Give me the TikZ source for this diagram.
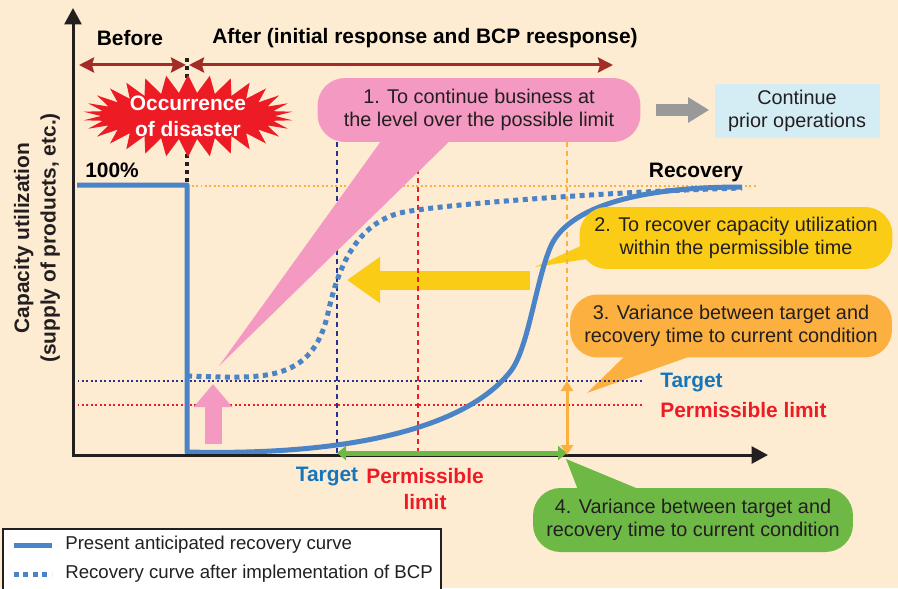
\documentclass[tikz,border=0pt]{standalone}
\usepackage{fontspec}
\setmainfont{Liberation Sans}
\usetikzlibrary{shapes.symbols}
\usetikzlibrary{positioning}
\usetikzlibrary{arrows.meta}

\begin{document}
\begin{tikzpicture}[x=0.02cm,y=-0.02cm,
	lab/.style={font=\bfseries\fontsize{11.9}{15}\selectfont},
	bubble/.style={rounded corners=0.55cm,align=center,inner sep=0pt,
		font=\fontsize{11.3}{13.2}\selectfont,text=txt},
	nowcurve/.style={line width=0.1cm,draw=bcurve,line join=round},
	bcpcurve/.style={nowcurve,dash pattern=on 0.1cm off 0.09cm},
	hdots/.style={line width=0.04cm,dash pattern=on 0.04cm off 0.05cm},
	vdash/.style={line width=0.04cm,dash pattern=on 0.1cm off 0.08cm},
	span/.style={<->,>={Stealth[length=0.3cm,width=0.3cm,inset=0.04cm]},
		draw=darkred,line width=0.06cm},
	axis/.style={->,>={Triangle[length=0.33cm,width=0.34cm]},line width=0.06cm,draw=txt}]
	
	\definecolor{bgc}{RGB}{253,235,210}
	\definecolor{darkred}{RGB}{163,45,38}
	\definecolor{burst}{RGB}{237,28,36}
	\definecolor{pinkc}{RGB}{243,153,194}
	\definecolor{yellowc}{RGB}{250,204,22}
	\definecolor{orangec}{RGB}{251,176,64}
	\definecolor{greenc}{RGB}{110,185,70}
	\definecolor{bluebox}{RGB}{212,237,244}
	\definecolor{bcurve}{RGB}{74,132,199}
	\definecolor{navy}{RGB}{40,50,145}
	\definecolor{tblue}{RGB}{22,118,188}
	\definecolor{txt}{RGB}{35,31,32}
	
	\fill[bgc] (0,0) rectangle (898,588);
	\useasboundingbox (0,0) rectangle (898,588);
	
	% axes corners and arrow ends
	\coordinate (O) at (73,455);
	\coordinate (ytop) at (73,8);
	\coordinate (xend) at (768,455);
	\coordinate (tgtT) at (337,453);
	\coordinate (limT) at (567,453);
	
	% block arrow and callout tails
	\draw[yellowc,line width=0.38cm,-{Triangle[length=0.66cm,width=0.88cm]}] (530,280) -- (347,280);
	\fill[yellowc] (535,267) -- (600,237) -- (600,257) -- cycle;
	\fill[orangec] (587,393) -- (631,350) -- (708,350) -- cycle;
	\fill[greenc] (566,459) -- (580,495) -- (653,495) -- cycle;
	
	% target and limit levels
	\draw[hdots,navy] (73,381) -- (642,381);
	\draw[hdots,burst] (73,405) -- (642,405);
	\draw[hdots,orangec] (187,186) -- (758,186);
	\draw[vdash,navy] (337,142) -- (337,455);
	\draw[vdash,burst] (418,142) -- (418,455);
	\draw[vdash,orangec] (567,142) -- (567,455);
	\draw[line width=0.08cm,dash pattern=on 0.08cm off 0.08cm,txt] (187,58) -- (187,183);
	
	\fill[pinkc] (389,130) -- (219,366) -- (461,130) -- cycle;
	
	% recovery curves
	\draw[nowcurve] (77,185) -- (187,185) -- (187,452)
		.. controls (350,456) and (465,428) .. (510,372)
		.. controls (528,350) and (535,285) .. (550,248)
		.. controls (560,223) and (600,187) .. (742,187);
	\draw[bcpcurve] (187,376) .. controls (260,378) and (312,385) .. (328,313)
		.. controls (336,277) and (352,225) .. (400,213)
		.. controls (430,205.5) and (600,192) .. (742,188);
	
	\draw[pinkc,line width=0.34cm,-{Triangle[length=0.46cm,width=0.74cm]}] (213,444) -- (213,384);
	
	\draw[axis] (O) -- (ytop);
	\draw[axis] ([xshift=-0.03cm]O) -- (xend);
	
	\coordinate (bA) at (79,65);
	\coordinate (bB) at (186,65);
	\coordinate (aA) at (189,65);
	\coordinate (aB) at (613,65);
	\draw[span] (bA) -- (bB);
	\draw[span] (aA) -- (aB);
	
	\draw[greenc,line width=0.1cm,{Triangle[length=0.18cm,width=0.28cm]}-{Triangle[length=0.18cm,width=0.28cm]}] (tgtT) -- (limT);
	\draw[orangec,line width=0.06cm,{Triangle[length=0.2cm,width=0.24cm]}-{Triangle[length=0.2cm,width=0.24cm]}] (567,381) -- (567,455);
	
	% labels
	\node[lab] (before) at (130,38) {Before};
	\node[lab] (after) at (425,38) {After (initial response and BCP reesponse)};
	\node[lab] (pct) at (112,170) {100\%};
	\node[lab] (rec) at (696,172) {Recovery};
	\node[lab,text=tblue,anchor=west,inner sep=0pt] (tgt) at (660,383) {Target};
	\node[lab,text=burst,anchor=west,inner sep=0pt] (perm) at (660,410) {Permissible limit};
	\node[lab,text=tblue] (tgtx) at (327,477) {Target};
	\node[lab,text=burst,align=center] (permx) at (425,489) {Permissible\\limit};
	\node[lab,rotate=90,align=center,text=txt] (ylab) at (37,238) {Capacity utilization\\(supply of products, etc.)};
	
	\node[starburst,fill=burst,starburst points=30,starburst point height=0.36cm,
		random starburst=0,minimum width=4.2cm,inner xsep=0pt,inner ysep=-2.4pt,
		lab,text=white,align=center] (disaster) at (188,116) {Occurrence\\of disaster};
	
	% callouts
	\node[bubble,fill=pinkc,minimum width=6.46cm,minimum height=1.28cm] (c1) at (479,110)
		{1. To continue business at\\the level over the possible limit};
	\node[bubble,fill=bluebox,rounded corners=0pt,minimum width=3.3cm,minimum height=1.1cm] (cont) at (797,111)
		{Continue\\prior operations};
	\node[bubble,fill=yellowc,minimum width=6.26cm,minimum height=1.24cm] (c2) at (736,238)
		{2. To recover capacity utilization\\within the permissible time};
	\node[bubble,fill=orangec,minimum width=6.44cm,minimum height=1.26cm] (c3) at (731,326)
		{3. Variance between target and\\recovery time to current condition};
	\node[bubble,fill=greenc,minimum width=6.4cm,minimum height=1.28cm] (c4) at (693,520)
		{4. Variance between target and\\recovery time to current condition};
	
	\draw[black!40,line width=0.24cm,-{Triangle[length=0.42cm,width=0.48cm]},
		shorten <=0.3cm,shorten >=0.1cm] (c1.east) -- (c1.east -| cont.west);
	
	% legend
	\draw[line width=0.03cm,draw=txt,fill=white] (3,529) rectangle (441,595);
	\draw[nowcurve] (14,545) -- (52,545);
	\draw[bcpcurve] (14,574) -- (52,574);
	\node[anchor=west,inner sep=0pt,text=txt,font=\fontsize{10.6}{12}\selectfont] (l1) at (65,545) {Present anticipated recovery curve};
	\node[anchor=west,inner sep=0pt,text=txt,font=\fontsize{10.6}{12}\selectfont] (l2) at (65,574) {Recovery curve after implementation of BCP};
\end{tikzpicture}
\end{document}
